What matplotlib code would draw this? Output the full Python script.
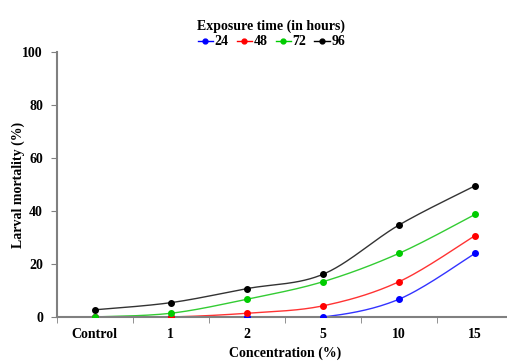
import numpy as np
import matplotlib
matplotlib.use("Agg")
import matplotlib.pyplot as plt

categories = ["Control", "1", "2", "5", "10", "15"]
series_names = ["24", "48", "72", "96"]
v24 = [0, 0, 0, 0, 6.7, 24.0]
v48 = [0, 0, 1.4, 4.2, 13.3, 30.7]
v72 = [0, 1.4, 6.7, 13.3, 24.0, 38.7]
v96 = [2.7, 5.4, 10.7, 16.1, 34.7, 49.5]
colors = ["#0000ff", "#ff0000", "#00cc00", "#000000"]
line_colors = ["#3333ff", "#ff3333", "#33cc33", "#333333"]
yticks = [0, 20, 40, 60, 80, 100]

plt.rcParams['font.family'] = ['Liberation Serif', 'DejaVu Serif']
plt.rcParams['font.weight'] = 'bold'

def smooth(x, y, n=30, t=0.5):
    x = np.asarray(x, float); y = np.asarray(y, float)
    px = np.concatenate([[x[0]], x, [x[-1]]])
    py = np.concatenate([[y[0]], y, [y[-1]]])
    xs, ys = [], []
    for i in range(1, len(px) - 2):
        p0, p1, p2, p3 = [np.array([px[j], py[j]]) for j in (i - 1, i, i + 1, i + 2)]
        c1 = p1 + (p2 - p0) * t / 3
        c2 = p2 - (p3 - p1) * t / 3
        s = np.linspace(0, 1, n)[:, None]
        b = (1 - s) ** 3 * p1 + 3 * (1 - s) ** 2 * s * c1 + 3 * (1 - s) * s ** 2 * c2 + s ** 3 * p2
        xs.extend(b[:, 0]); ys.extend(b[:, 1])
    return np.array(xs), np.array(ys)

fig = plt.figure(figsize=(5.07, 3.61), dpi=100)
ax = fig.add_axes([0.112, 0.122, 0.9, 0.734])
x = np.arange(len(categories))
handles = []
for name, vals, c, lc in zip(series_names, [v24, v48, v72, v96], colors, line_colors):
    sx, sy = smooth(x, vals)
    ax.plot(sx, sy, color=lc, lw=1.0, zorder=2)
    ax.plot(x, vals, 'o', color=c, ms=4, zorder=3)
    h, = ax.plot([], [], '-o', color=c, ms=3.5, lw=1.0, label=name)
    handles.append(h)

ax.set_xlim(-0.5, 5.5)
ax.set_ylim(0, 100)
ax.set_yticks(yticks)
ax.set_xticks(x)
ax.set_xticklabels(categories)
ax.set_xticks(np.arange(-0.5, 6, 1), minor=True)
ax.tick_params(axis='x', which='major', length=0, pad=8)
ax.tick_params(axis='x', which='minor', length=4, color='#808080', direction='out')
ax.tick_params(axis='y', length=4, color='#808080', direction='out', pad=6)
for lab in ax.get_xticklabels() + ax.get_yticklabels():
    lab.set_fontsize(10)
    lab.set_fontweight('bold')
for s in ['top', 'right']:
    ax.spines[s].set_visible(False)
for s in ['left', 'bottom']:
    ax.spines[s].set_color('#808080')
    ax.spines[s].set_linewidth(1.5)
ax.set_xlabel("Concentration (%)", fontsize=10, fontweight='bold', labelpad=4)
ax.set_ylabel("Larval mortality (%)", fontsize=10, fontweight='bold', labelpad=-2)

leg = fig.legend(handles=handles, loc='upper center', bbox_to_anchor=(0.535, 0.97), ncol=4,
                 frameon=False, title="Exposure time (in hours)", handlelength=1.1,
                 handletextpad=0.1, columnspacing=0.6, borderpad=0.1, labelspacing=0.2,
                 prop={'size': 10, 'weight': 'bold'})
leg.get_title().set_fontsize(10)
leg.get_title().set_fontweight('bold')

fig.savefig("out.png", dpi=100)
